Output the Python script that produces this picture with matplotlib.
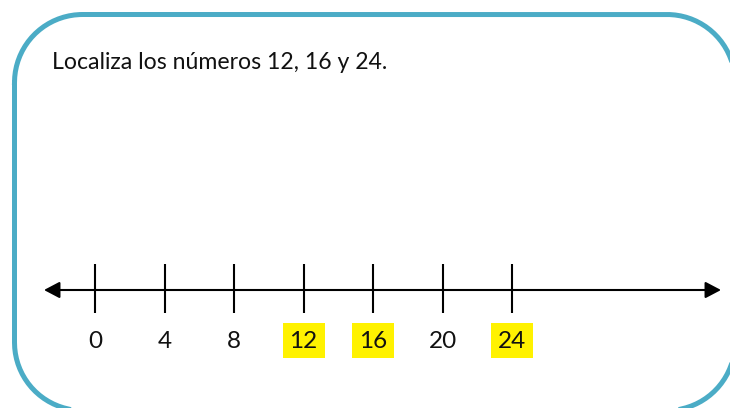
import matplotlib
matplotlib.use("Agg")
import matplotlib.pyplot as plt
import numpy as np
from matplotlib.patches import Rectangle

# datos de la recta numerica
valores = [0, 4, 8, 12, 16, 20, 24]
etiquetas = ["0", "4", "8", "12", "16", "20", "24"]
resaltados = [12, 16, 24]
titulo = "Localiza los números 12, 16 y 24."

W, H = 730, 408
fig = plt.figure(figsize=(W / 100, H / 100), dpi=100)

# fondo en pixeles: marco redondeado y titulo
fondo = fig.add_axes([0, 0, 1, 1])
fondo.set_xlim(0, W)
fondo.set_ylim(H, 0)
fondo.axis("off")

# marco con esquinas circulares (se sale por la derecha y por abajo)
x0, y0m, x1, y1m, r = 14.5, 14.5, 735, 410.5, 68
esquinas = [(x0 + r, y0m + r, 180, 270), (x1 - r, y0m + r, 270, 360),
            (x1 - r, y1m - r, 0, 90), (x0 + r, y1m - r, 90, 180)]
px, py = [], []
for cx, cy, a, b in esquinas:
    t = np.radians(np.linspace(a, b, 40))
    px.extend(cx + r * np.cos(t))
    py.extend(cy + r * np.sin(t))
px.append(px[0])
py.append(py[0])
fondo.plot(px, py, color="#4BACC6", lw=3.6, solid_joinstyle="round")

fondo.text(52, 69, titulo, fontsize=16.6, family="Lato", color="#111111", va="baseline")

# recta: 4 unidades = 69.5 px, el 0 en x=95 px
esc = 69.5 / 4
ax = fig.add_axes([0, 0, 1, 1])
ax.set_xlim(-95 / esc, (W - 95) / esc)
ax.set_ylim(H, 0)
ax.axis("off")
ax.patch.set_alpha(0)

yr = 290
ax.annotate("", xy=((721 - 95) / esc, yr), xytext=((44 - 95) / esc, yr),
            arrowprops=dict(arrowstyle="<|-|>,head_length=9.5,head_width=5", mutation_scale=1,
                            lw=1.5, color="black", shrinkA=0, shrinkB=0))
ax.vlines(valores, 264, 313, color="black", lw=1.5)

for v, t in zip(valores, etiquetas):
    if v in resaltados:
        ax.add_patch(Rectangle((v - 21 / esc, 323), 42 / esc, 35, color="#FFF200", lw=0))
    ax.text(v, 341, t, fontsize=17.5, family="Lato", ha="center", va="center", color="#111111")

fig.savefig("out.png", dpi=100)
